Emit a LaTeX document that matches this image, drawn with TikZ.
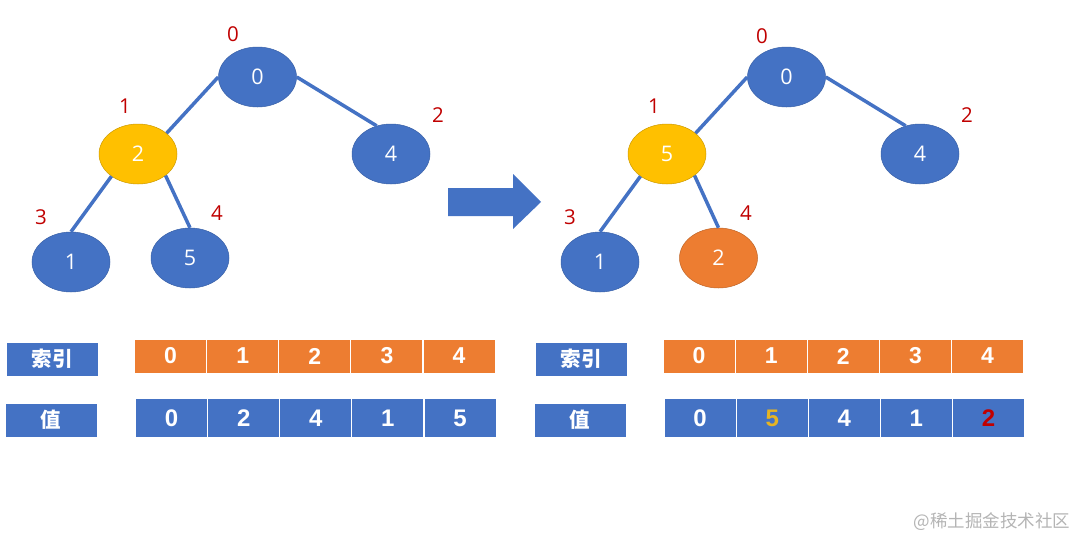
\documentclass[tikz,border=0pt]{standalone}
\usepackage{fontspec}
\setmainfont{Liberation Sans}
\newfontfamily\cjk{Noto Sans CJK SC}
\newfontfamily\treefont{Open Sans}
\usetikzlibrary{shapes.geometric}
\definecolor{heapblue}{HTML}{4472C4}
\definecolor{heaporange}{HTML}{ED7D31}
\definecolor{heapyellow}{HTML}{FFC000}
\definecolor{tagred}{HTML}{C00000}
\definecolor{valgold}{HTML}{E6B422}
\definecolor{markgray}{HTML}{B4B4B4}
\begin{document}
\begin{tikzpicture}[x=1pt,y=-1pt,
    heapnode/.style={ellipse, fill=heapblue, draw=heapblue!85!black, line width=0.5pt,
      minimum width=78pt, minimum height=60pt, inner sep=0pt, text=white,
      font=\treefont\fontsize{21.5}{21.5}\selectfont},
    swapnode/.style={heapnode, fill=heapyellow, draw=heapyellow!80!black},
    movenode/.style={heapnode, fill=heaporange, draw=heaporange!80!black},
    tag/.style={text=tagred, font=\treefont\fontsize{20.5}{20.5}\selectfont},
    link/.style={draw=heapblue, line width=3.5pt},
    idxcell/.style={rectangle, fill=heaporange, draw=white, line width=1pt,
      minimum width=72pt, minimum height=34pt, inner sep=0pt, text=white,
      font=\bfseries\fontsize{23}{23}\selectfont},
    valcell/.style={idxcell, fill=heapblue, minimum height=39pt, font=\bfseries\fontsize{24}{24}\selectfont},
    rowlabel/.style={rectangle, fill=heapblue, draw=white, line width=1pt,
      minimum width=92pt, minimum height=34pt, inner sep=0pt, text=white,
      font=\cjk\bfseries\fontsize{20.5}{20.5}\selectfont}]
  \useasboundingbox (0,0) rectangle (1080,538);

  % left heap
  \node [heapnode] (L0) at (257.5,77) {0};
  \node [swapnode] (L1) at (138,154) {2};
  \node [heapnode] (L2) at (391,154) {4};
  \node [heapnode] (L3) at (71,262) {1};
  \node [heapnode] (L4) at (190,258) {5};
  \node [tag] (L0tag) at (233,34) {0};
  \node [tag] (L1tag) at (125,106) {1};
  \node [tag] (L2tag) at (438,115) {2};
  \node [tag] (L3tag) at (41,217) {3};
  \node [tag] (L4tag) at (217,213) {4};
  \draw [link] (L0.west) to (L1.36);
  \draw [link] (L0.east) to (L2.117);
  \draw [link] (L1.220) to (L3.north);
  \draw [link] (L1.322) to (L4.north);

  % arrow between the two heaps
  \fill [heapblue] (448,188) -- (513,188) -- (513,174) -- (541,202)
    -- (513,229) -- (513,216) -- (448,216) -- cycle;

  % right heap
  \node [heapnode] (R0) at (786.5,77) {0};
  \node [swapnode] (R1) at (667,154) {5};
  \node [heapnode] (R2) at (920,154) {4};
  \node [heapnode] (R3) at (600,262) {1};
  \node [movenode] (R4) at (718.5,258) {2};
  \node [tag] (R0tag) at (762,36) {0};
  \node [tag] (R1tag) at (654,106) {1};
  \node [tag] (R2tag) at (967,115) {2};
  \node [tag] (R3tag) at (570,217) {3};
  \node [tag] (R4tag) at (746,213) {4};
  \draw [link] (R0.west) to (R1.36);
  \draw [link] (R0.east) to (R2.117);
  \draw [link] (R1.220) to (R3.north);
  \draw [link] (R1.322) to (R4.north);

  % left array
  \node [rowlabel] (Lidx) at (52,359) {索引};
  \node [rowlabel] (Lval) at (51,420) {值};
  \node [idxcell] (Li0) at (170.6,356) {0};
  \node [idxcell] (Li1) at (242.7,356) {1};
  \node [idxcell] (Li2) at (314.8,356) {2};
  \node [idxcell] (Li3) at (386.9,356) {3};
  \node [idxcell] (Li4) at (459.0,356) {4};
  \node [valcell] (Lv0) at (171.6,418) {0};
  \node [valcell] (Lv1) at (243.7,418) {2};
  \node [valcell] (Lv2) at (315.8,418) {4};
  \node [valcell] (Lv3) at (387.9,418) {1};
  \node [valcell] (Lv4) at (460.0,418) {5};

  % right array
  \node [rowlabel] (Ridx) at (581,359) {索引};
  \node [rowlabel] (Rval) at (580,420) {值};
  \node [idxcell] (Ri0) at (699.1,356) {0};
  \node [idxcell] (Ri1) at (771.2,356) {1};
  \node [idxcell] (Ri2) at (843.3,356) {2};
  \node [idxcell] (Ri3) at (915.4,356) {3};
  \node [idxcell] (Ri4) at (987.5,356) {4};
  \node [valcell] (Rv0) at (700.1,418) {0};
  \node [valcell, text=valgold] (Rv1) at (772.2,418) {5};
  \node [valcell] (Rv2) at (844.3,418) {4};
  \node [valcell] (Rv3) at (916.4,418) {1};
  \node [valcell, text=tagred] (Rv4) at (988.5,418) {2};

  \node [text=markgray, font=\cjk\fontsize{17.5}{17.5}\selectfont, anchor=east] (mark) at (1074,522) {@稀土掘金技术社区};
\end{tikzpicture}
\end{document}
